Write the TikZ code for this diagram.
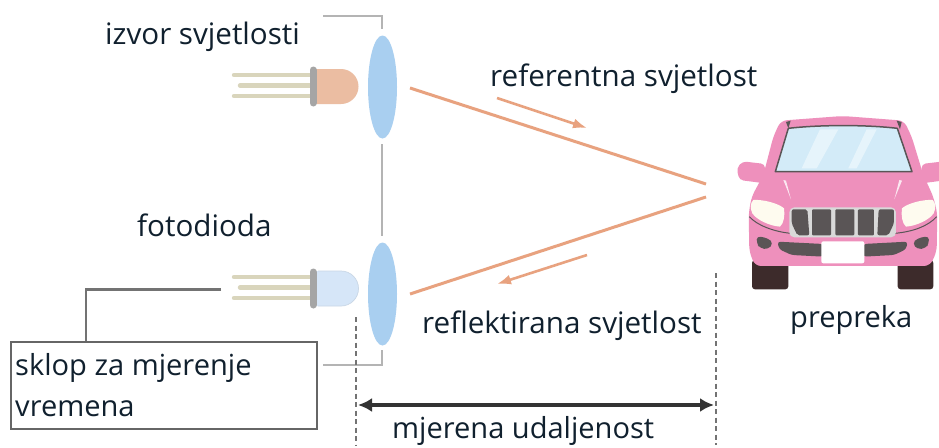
\documentclass[tikz,border=0pt]{standalone}
\usepackage{fontspec}
\setmainfont{Open Sans}
\usetikzlibrary{shapes.geometric,arrows.meta}
\definecolor{lensblue}{HTML}{A9CFF0}
\definecolor{ray}{HTML}{E8A27F}
\definecolor{brk}{HTML}{B4B4B4}
\definecolor{leg}{HTML}{D9D5BC}
\definecolor{collar}{HTML}{A5A5A5}
\definecolor{ledred}{HTML}{EBBDA2}
\definecolor{ledblue}{HTML}{D6E6F8}
\definecolor{pinkcar}{HTML}{EE90BC}
\definecolor{glass}{HTML}{D3EBF8}
\definecolor{darkgrill}{HTML}{5A5556}
\definecolor{tyre}{HTML}{3D2B2B}
\definecolor{lamp}{HTML}{FEFBEF}
\definecolor{txt}{HTML}{10202E}
\tikzset{x=1pt,y=-1pt,
 lbl/.style={anchor=base west,inner sep=0pt,text=txt,font=\fontsize{29.6}{34}\selectfont},
 lblsmall/.style={lbl,font=\fontsize{29.05}{34}\selectfont},
 lens/.style={ellipse,fill=lensblue,minimum width=29pt,minimum height=103pt,inner sep=0pt},
 bracket/.style={draw=brk,line width=1.6pt},
 rayline/.style={draw=ray,line width=3pt},
 rayarrow/.style={draw=ray,line width=2.6pt,-{Latex[length=14pt,width=10pt]}},
 wire/.style={draw=black!55,line width=2.5pt},
 dimdash/.style={draw=black!55,line width=2pt,dash pattern=on 5pt off 3.5pt},
 legline/.style={draw=leg,line width=4.4pt,line cap=round},
}
\newcommand{\ledshape}[2]{%
 \begin{scope}[yshift=-#1pt]
  \draw[legline] (234,75)--(310,75);
  \draw[legline] (240,85.5)--(310,85.5);
  \draw[legline] (234,96)--(310,96);
  \fill[#2] (312,69) -- (341,69) arc[start angle=90,end angle=-90,radius=17.5pt] -- (312,104) -- cycle;
  \draw[collar,line width=7pt,line cap=round] (313,70)--(313,103);
 \end{scope}}
\begin{document}
\begin{tikzpicture}
\useasboundingbox (0,0) rectangle (939,447);
\fill[white] (0,0) rectangle (939,447);
% coordinates
\coordinate (bt0) at (323,16); \coordinate (bt1) at (382,16); \coordinate (bt2) at (382,29);
\coordinate (bm0) at (382,144); \coordinate (bm1) at (382,236);
\coordinate (bb0) at (382,350); \coordinate (bb1) at (382,365); \coordinate (bb2) at (323,365);
\coordinate (r1a) at (410,88); \coordinate (r1b) at (706,184);
\coordinate (r2a) at (706,197); \coordinate (r2b) at (410,294);
\coordinate (a1a) at (497,98); \coordinate (a1b) at (587,128);
\coordinate (a2a) at (587,255); \coordinate (a2b) at (497,284);
\coordinate (w0) at (221,289.5);
\coordinate (dl0) at (356,317); \coordinate (dl1) at (356,445);
\coordinate (dr0) at (715.5,273); \coordinate (dr1) at (715.5,445);
\coordinate (dimL) at (358,405); \coordinate (dimR) at (714,405);
% lenses
\node[lens] (lens1) at (382.5,87) {};
\node[lens] (lens2) at (382.5,294) {};
% brackets
\draw[bracket] (bt0)--(bt1)--(bt2);
\draw[bracket] (bm0)--(bm1);
\draw[bracket] (bb0)--(bb1)--(bb2);
% LEDs
\ledshape{0}{ledred}
\ledshape{202}{ledblue}
\draw[ledblue!85!gray,line width=.7pt] (318,271) -- (341,271) arc[start angle=90,end angle=-90,radius=17.5pt] -- (318,306);
% rays
\draw[rayline] (r1a)--(r1b);
\draw[rayline] (r2a)--(r2b);
\draw[rayarrow] (a1a)--(a1b);
\draw[rayarrow] (a2a)--(a2b);
% box and wire
\node[draw=black!60,line width=2.2pt,minimum width=306pt,minimum height=87pt,inner sep=0pt,anchor=north west,fill=white] (box) at (10,341) {};
\draw[wire] (w0) -| (box.north -| 86,341);
% dims
\draw[dimdash] (dl0)--(dl1);
\draw[dimdash] (dr0)--(dr1);
\draw[draw=black!80,line width=3.4pt,{Latex[length=14pt,width=14pt]}-{Latex[length=14pt,width=14pt]}] (dimL)--(dimR);
% labels
\node[lbl] (t1) at (105,44) {izvor svjetlosti};
\node[lbl] (t2) at (137,236) {fotodioda};
\node[lbl] (t3) at (490,86) {referentna svjetlost};
\node[lbl] (t4) at (422,333) {reflektirana svjetlost};
\node[lblsmall] (t5) at (790,327) {prepreka};
\node[lblsmall] (t6) at (392,438.5) {mjerena udaljenost};
\node[lblsmall] (t7) at (15,375) {sklop za mjerenje};
\node[lblsmall] (t8) at (15,416) {vremena};
% car, in coordinates of a 3x crop at (720,100)
\begin{scope}[shift={(720pt,-100pt)},x=0.3333pt,y=-0.3333pt]
 % tyres
 \fill[tyre,rounded corners=3pt] (96,480) rectangle (205,568);
 \fill[tyre,rounded corners=3pt] (533,480) rectangle (640,568);
 % mirrors
 \fill[pinkcar,rounded corners=4pt] (135,192) -- (68,184) -- (50,205) -- (58,240) -- (135,250) -- cycle;
 \fill[pinkcar,rounded corners=4pt] (605,192) -- (672,184) -- (690,205) -- (682,240) -- (605,250) -- cycle;
 % body
 \fill[pinkcar,rounded corners=6pt] (182,62) -- (368,48) -- (552,62) -- (575,110) -- (610,225) -- (640,290) -- (652,340) -- (650,455) -- (630,498) -- (105,498) -- (88,455) -- (86,340) -- (95,290) -- (130,225) -- (160,110) -- cycle;
 % windshield
 \fill[darkgrill] (198,66) -- (212,62) -- (205,85) -- cycle;
 \fill[darkgrill] (530,62) -- (545,66) -- (540,88) -- cycle;
 \filldraw[fill=glass,draw=darkgrill,line width=1.5pt,line join=round] (205,85) .. controls (300,74) and (440,74) .. (532,85) -- (576,215) -- (166,215) -- cycle;
 \fill[white,opacity=.45] (300,88) -- (355,88) -- (290,205) -- (245,205) -- cycle;
 \fill[white,opacity=.45] (440,88) -- (470,88) -- (410,205) -- (385,205) -- cycle;
 % hood highlights
 \fill[white,opacity=.8] (190,240) -- (198,242) -- (213,298) -- cycle;
 \fill[white,opacity=.8] (538,240) -- (546,242) -- (523,298) -- cycle;
 % crease lines
 \draw[darkgrill,line width=1pt] (88,350) .. controls (110,375) and (160,395) .. (212,400);
 \draw[darkgrill,line width=1pt] (650,350) .. controls (625,378) and (580,395) .. (525,400);
 % lamps
 \fill[lamp] (100,300) .. controls (130,298) and (175,310) .. (192,325) .. controls (195,345) and (192,370) .. (180,380) .. controls (150,378) and (110,360) .. (97,340) .. controls (90,325) and (90,310) .. (100,300) -- cycle;
 \fill[lamp] (638,300) .. controls (608,298) and (563,310) .. (546,325) .. controls (543,345) and (546,370) .. (558,380) .. controls (588,378) and (628,360) .. (641,340) .. controls (648,325) and (648,310) .. (638,300) -- cycle;
 % grille
 \fill[white!70!gray,rounded corners=5pt] (208,322) rectangle (528,412);
 \fill[darkgrill,rounded corners=2pt] (215,328) -- (262,328) -- (268,406) -- (232,406) -- (215,370) -- cycle;
 \fill[darkgrill,rounded corners=1pt] (276,328) rectangle (333,406);
 \fill[darkgrill,rounded corners=1pt] (346,328) rectangle (403,406);
 \fill[darkgrill,rounded corners=1pt] (414,328) rectangle (462,406);
 \fill[darkgrill,rounded corners=2pt] (476,328) -- (522,328) -- (522,370) -- (505,406) -- (472,406) -- cycle;
 % bumper
 \fill[darkgrill,rounded corners=4pt] (110,408) -- (145,415) -- (160,430) -- (145,448) -- (120,445) -- (110,430) -- cycle;
 \fill[darkgrill,rounded corners=4pt] (627,408) -- (592,415) -- (577,430) -- (592,448) -- (617,445) -- (627,430) -- cycle;
 \fill[darkgrill,rounded corners=3pt] (172,425) -- (310,432) -- (310,470) -- (215,465) -- (178,448) -- cycle;
 \fill[darkgrill,rounded corners=3pt] (563,425) -- (430,432) -- (430,470) -- (522,465) -- (558,448) -- cycle;
 % plate
 \fill[white,rounded corners=2pt] (304,424) rectangle (433,490);
\end{scope}
\end{tikzpicture}
\end{document}
